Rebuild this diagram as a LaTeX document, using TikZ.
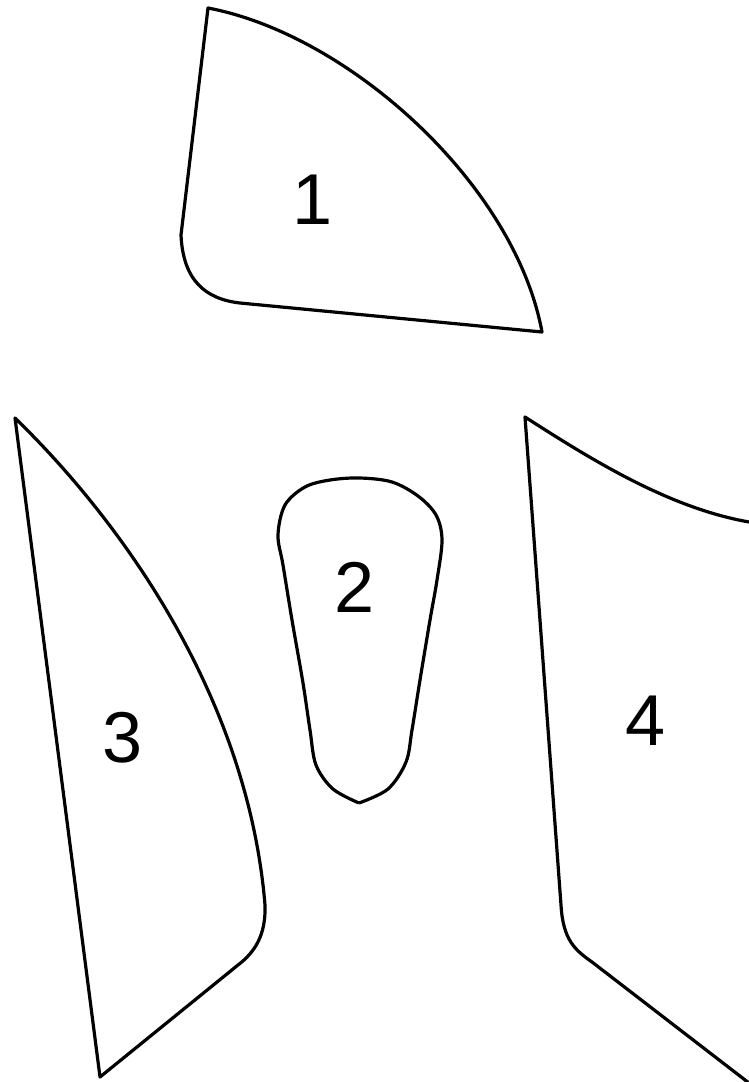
\documentclass[tikz,border=0pt]{standalone}
\usepackage{fontspec}
\setmainfont{Liberation Sans}
\begin{document}
\begin{tikzpicture}[x=1pt,y=-1pt,
  outline/.style={draw=black,line width=3.2pt,line join=round},
  lbl/.style={inner sep=0pt,font=\fontsize{72}{72}\selectfont}]
\useasboundingbox[fill=white] (0,0) rectangle (749,1082);
% piece 1
\draw[outline] (208,8) .. controls (350,35) and (515,185) .. (542,332)
  -- (240,303) .. controls (205,299) and (183,280) .. (181,235) -- cycle;
% piece 2
\draw[outline] plot[smooth,tension=0.55] coordinates {(359,803) (333,789) (316,765) (310,730) (303,683) (292,620) (283,565) (278,535) (285,505) (305,487) (330,480) (360,478) (392,482) (418,496) (436,515) (442,540) (437,580) (430,620) (420,680) (412,730) (406,762) (388,789) (359,803)};
% piece 3
\draw[outline] (15,418) .. controls (125,525) and (248,700) .. (265,905)
  .. controls (266,935) and (255,952) .. (238,965) -- (100,1077) -- cycle;
% piece 4
\draw[outline] (749,522) .. controls (670,508) and (595,462) .. (525,417)
  -- (561,905) .. controls (563,940) and (575,950) .. (592,962) -- (749,1083);
\node[lbl] (n1) at (313,200) {1};
\node[lbl] (n2) at (355,587) {2};
\node[lbl] (n3) at (123,738) {3};
\node[lbl] (n4) at (646,721) {4};
\end{tikzpicture}
\end{document}
